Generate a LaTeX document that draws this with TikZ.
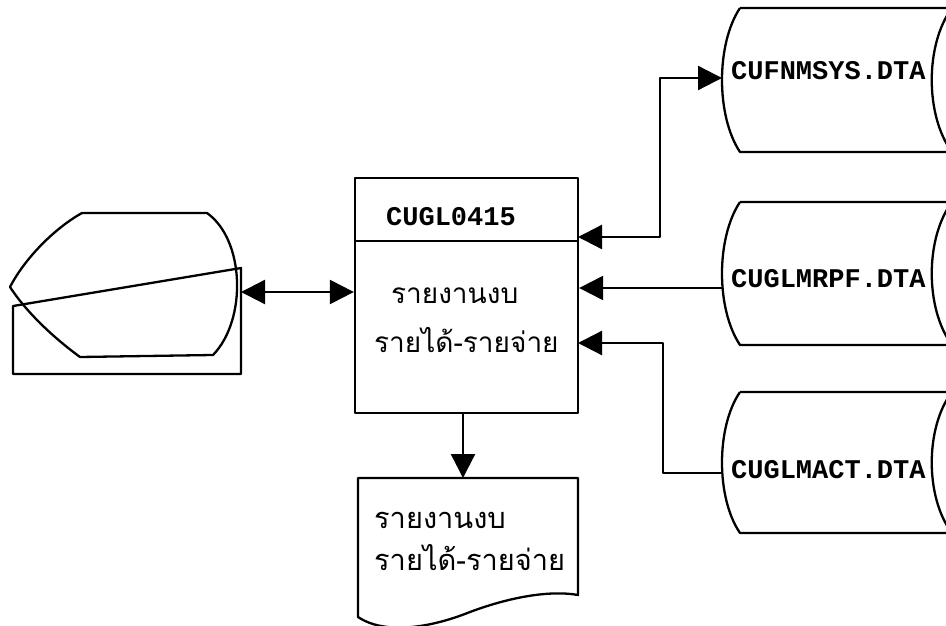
\documentclass[tikz,border=0pt]{standalone}
\usepackage{fontspec}
\setmonofont{Liberation Mono}
\newfontfamily\thaifont[Script=Thai]{Loma}
\usetikzlibrary{arrows.meta}

\begin{document}
\begin{tikzpicture}[x=1pt,y=-1pt,line width=2.3pt,line join=round,
    >={Triangle[length=24pt,width=24pt]},
    fname/.style={anchor=base west,inner sep=0pt,font=\ttfamily\bfseries\fontsize{27}{27}\selectfont},
    thtext/.style={anchor=base west,inner sep=0pt,font=\thaifont\fontsize{28}{28}\selectfont}]
      \clip (0,0) rectangle (946,626);

      % screen
      \draw (82,213) -- (207,213) .. controls (245,240) and (247,320) .. (213,355)
        -- (80,357) .. controls (50,335) and (25,310) .. (10,287)
        .. controls (25,258) and (55,228) .. (82,213) -- cycle;
      \draw (13,306) -- (241,268) -- (241,374) -- (13,374) -- cycle;
      \coordinate (S0) at (241,292);

      % program
      \node[draw,minimum width=223pt,minimum height=235pt,inner sep=0pt] (P0) at (466.5,295.5) {};
      \draw (P0.west |- 0,241) -- (P0.east |- 0,241);
      \node[fname,anchor=center] (T0) at (451,217) {CUGL0415};
      \node[thtext] (T1) at (390,303) {รายงานงบ};
      \node[thtext] (T2) at (373,352) {รายได้-รายจ่าย};
      \coordinate (P1) at (578,237);
      \coordinate (P3) at (578,343);

      % data files
      \draw (740,8) -- (952,8) .. controls (925,44) and (925,116) .. (952,152)
        -- (740,152) .. controls (716,116) and (716,44) .. (740,8);
      \draw (740,202) -- (952,202) .. controls (925,238) and (925,309) .. (952,345)
        -- (740,345) .. controls (716,309) and (716,238) .. (740,202);
      \draw (740,392) -- (952,392) .. controls (925,427) and (925,498) .. (952,533)
        -- (740,533) .. controls (716,498) and (716,427) .. (740,392);
      \node[fname] (F1) at (730,80) {CUFNMSYS.DTA};
      \node[fname] (F2) at (730,287) {CUGLMRPF.DTA};
      \node[fname] (F3) at (730,478) {CUGLMACT.DTA};
      \coordinate (F1in) at (722,78);
      \coordinate (F2in) at (722,288);
      \coordinate (F3in) at (722,473);
      \coordinate (K1) at (660,0);
      \coordinate (K3) at (663,0);

      % report
      \draw (358,478) -- (578,478) -- (578,595)
        .. controls (550,590) and (510,597) .. (470,612)
        .. controls (430,628) and (385,635) .. (358,617) -- cycle;
      \coordinate (R0) at (463,478);
      \node[thtext,font=\thaifont\fontsize{29}{29}\selectfont] (R1) at (373,528) {รายงานงบ};
      \node[thtext,font=\thaifont\fontsize{29}{29}\selectfont] (R2) at (373,570) {รายได้-รายจ่าย};

      \draw[<->] (S0) -- (S0 -| P0.west);
      \draw[<->] (P1) -- (P1 -| K1) |- (F1in);
      \draw[->] (F2in) -- (F2in -| P0.east);
      \draw[->] (F3in) -- (F3in -| K3) |- (P3);
      \draw[->] (R0 |- P0.south) -- (R0);
    \end{tikzpicture}
\end{document}
